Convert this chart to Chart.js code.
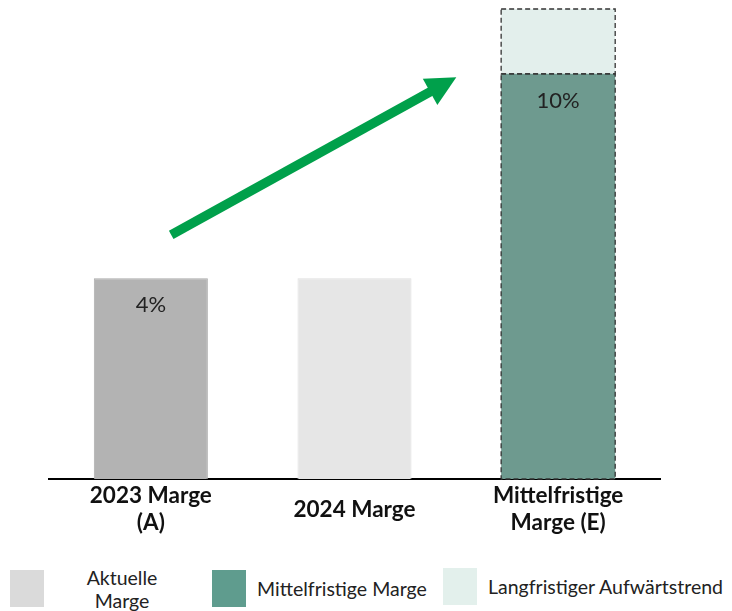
<!DOCTYPE html>
<html>
<head>
<meta charset="utf-8">
<script src="https://cdn.jsdelivr.net/npm/chart.js@4/dist/chart.umd.min.js"></script>
<style>
  html, body { margin: 0; padding: 0; background: #fff; }
  #wrap { position: relative; width: 732px; height: 611px; font-family: Lato, sans-serif; }
  #chartBox { position: absolute; left: 0; top: 0; width: 732px; height: 545px; }
  .lg-box { position: absolute; width: 34px; height: 37px; }
  .lg-text { position: absolute; font-size: 19.5px; color: #222; line-height: 23px; white-space: nowrap; }
</style>
</head>
<body>
<div id="wrap">
  <div id="chartBox"><canvas id="margeChart"></canvas></div>
  <div id="legend"></div>
</div>
<script>
// Chart data
const categories = [['2023 Marge', '(A)'], '2024 Marge', ['Mittelfristige', 'Marge (E)']];
const baseValues = [4, 4, 8.07];
const trendValues = [null, null, 1.29];
const valueLabels = ['4%', '', '10%'];
const barColors = ['#b3b3b3', '#e6e6e6', '#6e9a8f'];
const trendColor = '#e3efec';
const legendNames = [['Aktuelle', 'Marge'], 'Mittelfristige Marge', 'Langfristiger Aufwärtstrend'];
const legendColors = ['#dadada', '#5f9c8e', '#e3f0ec'];
// arrow from / to in data units (category index, value)
const arrowFrom = { x: 0.1, y: 4.86 };
const arrowTo = { x: 1.5, y: 8.0 };

/**
 * Value labels inside bars, dashed outline on the forecast bar, trend arrow
 */
const overlayPlugin = {
    id: 'overlay',
    afterDatasetsDraw(chart) {
        const ctx = chart.ctx;
        const baseMeta = chart.getDatasetMeta(0);
        const trendMeta = chart.getDatasetMeta(1);

        // dashed outline around forecast segments
        ctx.save();
        ctx.setLineDash([5, 3]);
        ctx.strokeStyle = '#333';
        ctx.lineWidth = 1.3;
        [baseMeta.data[2], trendMeta.data[2]].forEach(bar => {
            if (!bar) return;
            const p = bar.getProps(['x', 'y', 'base', 'width'], true);
            ctx.strokeRect(p.x - p.width / 2, p.y, p.width, p.base - p.y);
        });
        ctx.restore();

        // value labels
        ctx.save();
        ctx.font = '22px Lato, sans-serif';
        ctx.fillStyle = '#222';
        ctx.textAlign = 'center';
        ctx.textBaseline = 'middle';
        baseMeta.data.forEach((bar, i) => {
            if (!valueLabels[i]) return;
            ctx.fillText(valueLabels[i], bar.x, bar.y + 27);
        });
        ctx.restore();

        // trend arrow
        const xs = chart.scales.x, ys = chart.scales.y;
        const x1 = xs.getPixelForValue(arrowFrom.x), y1 = ys.getPixelForValue(arrowFrom.y);
        const x2 = xs.getPixelForValue(arrowTo.x), y2 = ys.getPixelForValue(arrowTo.y);
        const ang = Math.atan2(y2 - y1, x2 - x1);
        const headLen = 30, headW = 15;
        const bx = x2 - headLen * Math.cos(ang), by = y2 - headLen * Math.sin(ang);
        ctx.save();
        ctx.strokeStyle = '#00a04b';
        ctx.fillStyle = '#00a04b';
        ctx.lineWidth = 9.5;
        ctx.beginPath();
        ctx.moveTo(x1, y1);
        ctx.lineTo(bx + 2 * Math.cos(ang), by + 2 * Math.sin(ang));
        ctx.stroke();
        ctx.beginPath();
        ctx.moveTo(x2, y2);
        ctx.lineTo(bx + headW * Math.sin(ang), by - headW * Math.cos(ang));
        ctx.lineTo(bx - headW * Math.sin(ang), by + headW * Math.cos(ang));
        ctx.closePath();
        ctx.fill();
        ctx.restore();
    }
};

function initChart() {
    const ctx = document.getElementById('margeChart');
    new Chart(ctx.getContext('2d'), {
        type: 'bar',
        data: {
            labels: categories,
            datasets: [
                {
                    label: 'Marge',
                    data: baseValues,
                    backgroundColor: barColors,
                    borderColor: ['#ababab', '#e0e0e0', '#6e9a8f'],
                    borderWidth: [1, 1, 0],
                    stack: 'm'
                },
                {
                    label: 'Langfristiger Aufwärtstrend',
                    data: trendValues,
                    backgroundColor: trendColor,
                    borderWidth: 0,
                    stack: 'm'
                }
            ]
        },
        options: {
            responsive: true,
            maintainAspectRatio: false,
            animation: false,
            barPercentage: 0.56,
            categoryPercentage: 1,
            layout: { padding: { left: 49, right: 72, top: 9, bottom: 0 } },
            plugins: {
                legend: { display: false },
                tooltip: { enabled: false }
            },
            scales: {
                x: {
                    stacked: true,
                    grid: { display: false, drawTicks: false },
                    border: { display: true, color: '#000', width: 2 },
                    ticks: {
                        color: '#111',
                        font: { family: 'Lato, sans-serif', size: 22.5, weight: 'bold', lineHeight: 1.2 },
                        padding: 17,
                        crossAlign: 'center',
                        maxRotation: 0,
                        autoSkip: false
                    },
                    afterFit(scale) { scale.height = 66; }
                },
                y: {
                    stacked: true,
                    display: false,
                    min: 0,
                    max: 9.36
                }
            }
        },
        plugins: [overlayPlugin]
    });
}

function buildLegend() {
    const el = document.getElementById('legend');
    const boxLeft = [10, 212, 443];
    const boxTop = [570, 570, 568];
    legendNames.forEach((name, i) => {
        const box = document.createElement('div');
        box.className = 'lg-box';
        box.style.left = boxLeft[i] + 'px';
        box.style.top = boxTop[i] + 'px';
        box.style.background = legendColors[i];
        el.appendChild(box);
        const txt = document.createElement('div');
        txt.className = 'lg-text';
        if (Array.isArray(name)) {
            txt.innerHTML = name.join('<br>');
            txt.style.textAlign = 'center';
            txt.style.left = '72px';
            txt.style.width = '100px';
            txt.style.top = '566px';
        } else {
            txt.textContent = name;
            txt.style.left = (boxLeft[i] + 45) + 'px';
            txt.style.top = (boxTop[i] + 7) + 'px';
        }
        el.appendChild(txt);
    });
}

initChart();
buildLegend();
</script>
</body>
</html>
